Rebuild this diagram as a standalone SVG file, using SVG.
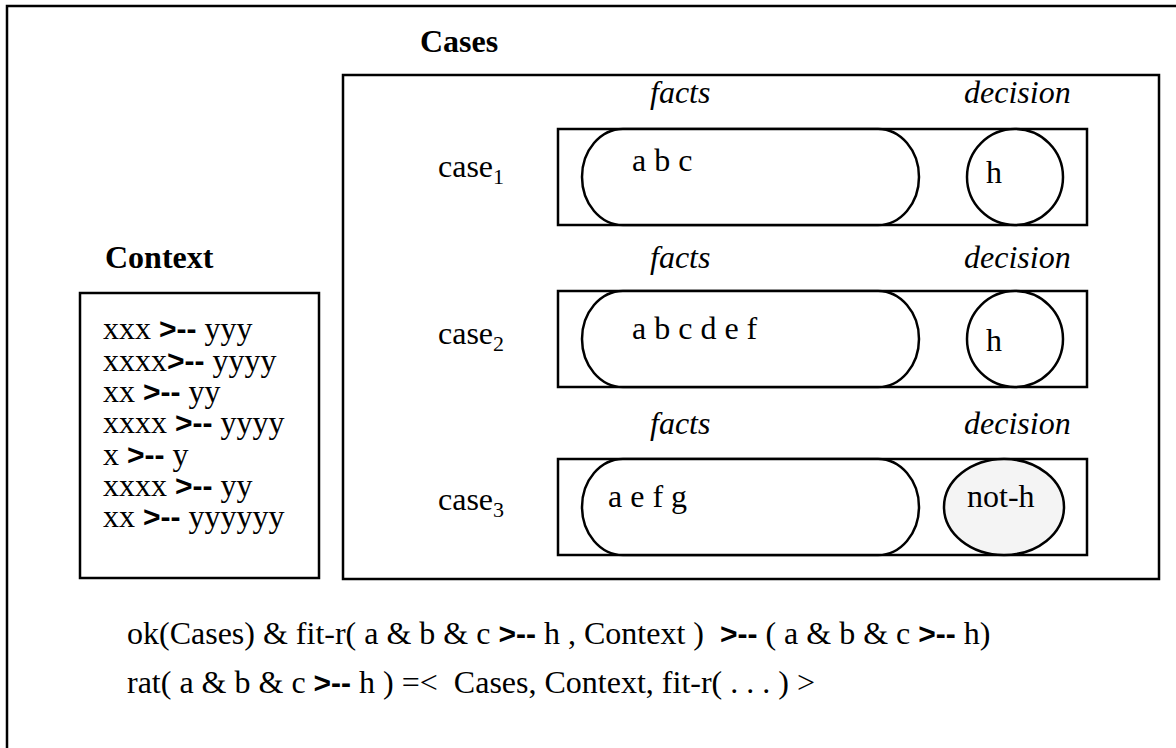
<svg xmlns="http://www.w3.org/2000/svg" width="1176" height="748" viewBox="0 0 1176 748">
<style>
.t{font-family:"Liberation Serif","Times New Roman",serif;font-size:32px;fill:#000}
.b{font-weight:bold}
.i{font-style:italic}
.op{font-family:"Liberation Sans",Arial,sans-serif;font-weight:bold;font-size:30px}
.sub{font-size:22px}
.box{fill:none;stroke:#000;stroke-width:2.5}
.shape{fill:#fff;stroke:#000;stroke-width:2.5}
</style>
<rect x="7" y="6" width="1200" height="760" class="box"/>
<g id="context">
<text x="105" y="268" class="t b">Context</text>
<rect x="80" y="293" width="239" height="285" class="box"/>
<text class="t" xml:space="preserve"><tspan x="103" y="339">xxx <tspan class="op">&gt;--</tspan> yyy</tspan><tspan x="103" y="371">xxxx<tspan class="op">&gt;--</tspan> yyyy</tspan><tspan x="103" y="402">xx <tspan class="op">&gt;--</tspan> yy</tspan><tspan x="103" y="433">xxxx <tspan class="op">&gt;--</tspan> yyyy</tspan><tspan x="103" y="465">x <tspan class="op">&gt;--</tspan> y</tspan><tspan x="103" y="496">xxxx <tspan class="op">&gt;--</tspan> yy</tspan><tspan x="103" y="527">xx <tspan class="op">&gt;--</tspan> yyyyyy</tspan></text>
</g>
<g id="cases">
<text x="420" y="52" class="t b">Cases</text>
<rect x="343" y="75" width="816" height="504" class="box"/>
</g>
<g id="case1">
<text x="650" y="103" class="t i">facts</text>
<text x="964" y="103" class="t i">decision</text>
<text x="438" y="177" class="t">case<tspan class="sub" dy="7">1</tspan></text>
<rect x="558" y="129" width="529" height="96" class="box"/>
<rect x="582" y="129" width="337" height="96" rx="41" ry="48" class="shape"/>
<ellipse cx="1015" cy="177" rx="48" ry="48" class="shape"/>
<text x="632" y="171" class="t">a b c</text>
<text x="986" y="183" class="t">h</text>
</g>
<g id="case2">
<text x="650" y="268" class="t i">facts</text>
<text x="964" y="268" class="t i">decision</text>
<text x="438" y="344" class="t">case<tspan class="sub" dy="7">2</tspan></text>
<rect x="558" y="291" width="529" height="96" class="box"/>
<rect x="582" y="291" width="337" height="96" rx="41" ry="48" class="shape"/>
<ellipse cx="1015" cy="339" rx="48" ry="48" class="shape"/>
<text x="632" y="339" class="t">a b c d e f</text>
<text x="986" y="351" class="t">h</text>
</g>
<g id="case3">
<text x="650" y="434" class="t i">facts</text>
<text x="964" y="434" class="t i">decision</text>
<text x="438" y="510" class="t">case<tspan class="sub" dy="7">3</tspan></text>
<rect x="558" y="459" width="529" height="96" class="box"/>
<rect x="582" y="459" width="337" height="96" rx="41" ry="48" class="shape"/>
<ellipse cx="1004" cy="507" rx="60" ry="48" class="shape" style="fill:#f4f4f4"/>
<text x="608" y="507" class="t">a e f g</text>
<text x="967" y="507" class="t">not-h</text>
</g>
<g id="formulas">
<text x="127" y="644" class="t" xml:space="preserve">ok(Cases) &amp; fit-r( a &amp; b &amp; c <tspan class="op">&gt;--</tspan> h , Context )  <tspan class="op">&gt;--</tspan> ( a &amp; b &amp; c <tspan class="op">&gt;--</tspan> h)</text>
<text x="127" y="693" class="t" xml:space="preserve">rat( a &amp; b &amp; c <tspan class="op">&gt;--</tspan> h ) =&lt;  Cases, Context, fit-r( . . . ) &gt;</text>
</g>
<g id="connectors"/>
</svg>
